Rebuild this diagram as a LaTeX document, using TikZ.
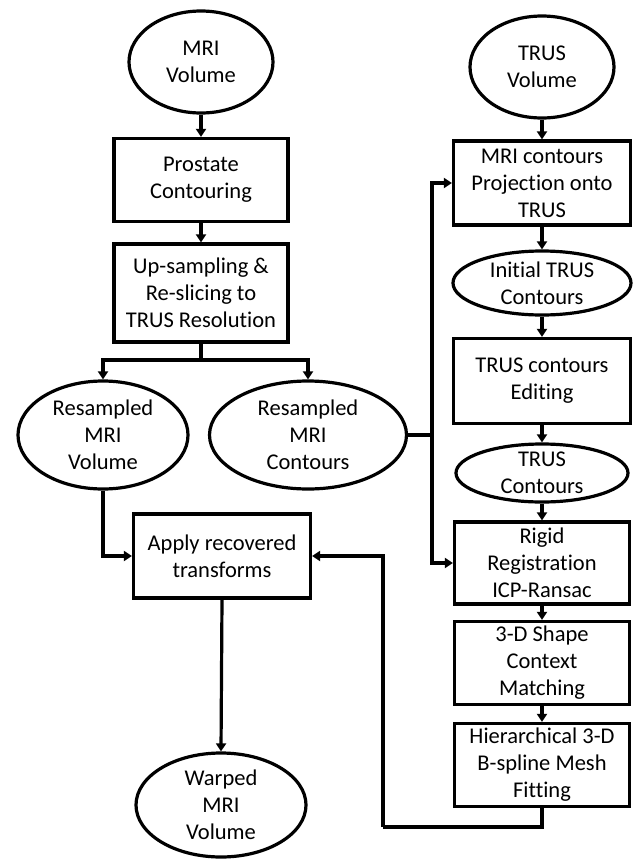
\documentclass[tikz,border=0pt]{standalone}
\usepackage{fontspec}
\setmainfont{Carlito}[Ligatures=NoCommon]
\usetikzlibrary{shapes.geometric,arrows.meta}
\begin{document}
\begin{tikzpicture}[x=1pt,y=-1pt,
  every node/.style={font=\fontsize{22.5}{27}\selectfont, align=center, inner sep=0pt},
  box/.style={draw, rectangle, line width=3.2pt},
  ell/.style={draw, ellipse, line width=3.2pt},
  lbl/.style={align=center},
  conn/.style={line width=3.2pt},
  arr/.style={line width=3.2pt, -{Triangle[length=8pt,width=10pt]}}]
\useasboundingbox (0,0) rectangle (635,860);
% left column
\node[ell, minimum width=144, minimum height=102, label={[lbl]center:MRI\\Volume}] (mri) at (201,62) {};
\node[box, minimum width=174, minimum height=83] (pc) at (201,180) {Prostate\\Contouring};
\node[box, minimum width=174, minimum height=98] (up) at (201,293) {Up-sampling \&\\Re-slicing to\\TRUS Resolution};
\node[ell, minimum width=170, minimum height=108, label={[lbl]center:Resampled\\MRI\\Volume}] (rv) at (103,435) {};
\node[ell, minimum width=197, minimum height=108, label={[lbl]center:Resampled\\MRI\\Contours}] (rc) at (308,435) {};
\node[box, minimum width=177, minimum height=84] (ap) at (222,556) {Apply recovered\\transforms};
\node[ell, minimum width=170, minimum height=104, label={[lbl]center:Warped\\MRI\\Volume}] (wv) at (221,805) {};
% right column
\node[ell, minimum width=144, minimum height=102, label={[lbl]center:TRUS\\Volume}] (tv) at (542,67) {};
\node[box, minimum width=177, minimum height=84] (proj) at (542,183) {MRI contours\\Projection onto\\TRUS};
\node[ell, minimum width=178, minimum height=64, label={[lbl]center:Initial TRUS\\Contours}] (init) at (542,283) {};
\node[box, minimum width=177, minimum height=85] (edit) at (542,381) {TRUS contours\\Editing};
\node[ell, minimum width=172, minimum height=58, label={[lbl]center:TRUS\\Contours}] (tc) at (542,473) {};
\node[box, minimum width=175, minimum height=82] (rig) at (542,563) {Rigid\\Registration\\ICP-Ransac};
\node[box, minimum width=175, minimum height=83] (shp) at (542,663) {3-D Shape\\Context\\Matching};
\node[box, minimum width=175, minimum height=83] (hier) at (542,765) {Hierarchical 3-D\\B-spline Mesh\\Fitting};
% helper coordinates
\coordinate (split) at (201,360);
\coordinate (junc) at (432,435);
\coordinate (fbc) at (383,827);
% connectors
\draw[arr] (mri) -- (pc);
\draw[arr] (pc) -- (up);
\draw[conn] (up.south) -- (split);
\draw[arr] (split) -| (rv.north);
\draw[arr] (split) -| (rc.north);
\draw[arr] (rv.south) |- (ap.west);
\draw[arr] (ap.south) -- (wv.north);
\draw[arr] (tv) -- (proj);
\draw[arr] (proj) -- (init);
\draw[arr] (init) -- (edit);
\draw[arr] (edit) -- (tc);
\draw[arr] (tc) -- (rig);
\draw[arr] (rig) -- (shp);
\draw[arr] (shp) -- (hier);
\draw[conn] (rc.east) -- (junc);
\draw[arr] (junc) |- (proj.west);
\draw[arr] (junc) |- (rig.west);
\draw[conn] (hier.south) |- (fbc);
\draw[arr] (fbc) |- (ap.east);
\end{tikzpicture}
\end{document}
